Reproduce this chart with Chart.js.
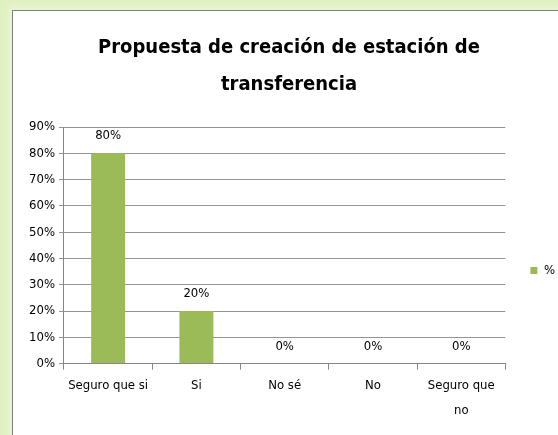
<!DOCTYPE html>
<html><head><meta charset="utf-8">
<script src="https://cdn.jsdelivr.net/npm/chart.js@4"></script>
<style>
html,body{margin:0;padding:0;width:558px;height:435px;overflow:hidden;background:#dff0c0;}
#frame{position:absolute;left:12px;top:10px;width:560px;height:440px;background:#fff;border:1px solid #7f7f7f;box-shadow:0 0 6px 4px #e9f5d3;}
#wrap{position:absolute;left:13px;top:11px;width:545px;height:424px;}
</style></head><body>
<div id="frame"></div>
<div id="wrap"><canvas id="c" width="545" height="424"></canvas></div>
<script>
const categories = ["Seguro que si","Si","No sé","No",["Seguro que","no"]];
const seriesName = "%";
const values = [80,20,0,0,0];
const yTicksMax = 90;
const yTicksStep = 10;
const titleLines = ["Propuesta de creación de estación de","transferencia"];

const FONT = "'Liberation Sans Narrow','DejaVu Sans Condensed','Liberation Sans',sans-serif";

const barLabels = {
  id:'barLabels',
  afterDatasetsDraw(chart){
    const ctx = chart.ctx;
    const meta = chart.getDatasetMeta(0);
    ctx.save();
    ctx.font = "13px " + FONT;
    ctx.fillStyle = "#000";
    ctx.textAlign = "center";
    ctx.textBaseline = "alphabetic";
    meta.data.forEach((el,i)=>{
      ctx.fillText(values[i] + "%", el.x, el.y - 14);
    });
    ctx.restore();
  }
};

new Chart(document.getElementById('c'), {
  type:'bar',
  data:{
    labels:categories,
    datasets:[{label:seriesName,data:values,backgroundColor:'#9bbb59',borderWidth:0,
      categoryPercentage:1,barPercentage:0.385}]
  },
  options:{
    responsive:false,animation:false,
    layout:{padding:{left:0,right:-7,top:0,bottom:8}},
    plugins:{
      title:{display:true,text:titleLines,color:'#000',
        font:{family:FONT,size:20,weight:'bold',lineHeight:1.85},padding:{top:18,bottom:24}},
      legend:{position:'right',align:'center',fullSize:false,
        title:{display:true,text:'',font:{size:1},padding:{top:49,bottom:0}},
        labels:{boxWidth:7,boxHeight:7,color:'#000',font:{family:FONT,size:13},padding:25}},
      tooltip:{enabled:false}
    },
    scales:{
      x:{grid:{offset:true,drawOnChartArea:false,drawTicks:true,tickLength:6,color:'#868686'},
        border:{color:'#868686'},
        ticks:{color:'#000',font:{family:FONT,size:13,lineHeight:1.9},maxRotation:0,autoSkip:false,padding:4}},
      y:{min:0,max:yTicksMax,
        afterFit(scale){ scale.width += 12; },
        grid:{color:'#959595',tickLength:5,drawTicks:true},
        border:{color:'#868686'},
        ticks:{stepSize:yTicksStep,color:'#000',font:{family:FONT,size:13},padding:4,
          callback:v=>v+'%'}}
    }
  },
  plugins:[barLabels]
});
</script>
</body></html>
